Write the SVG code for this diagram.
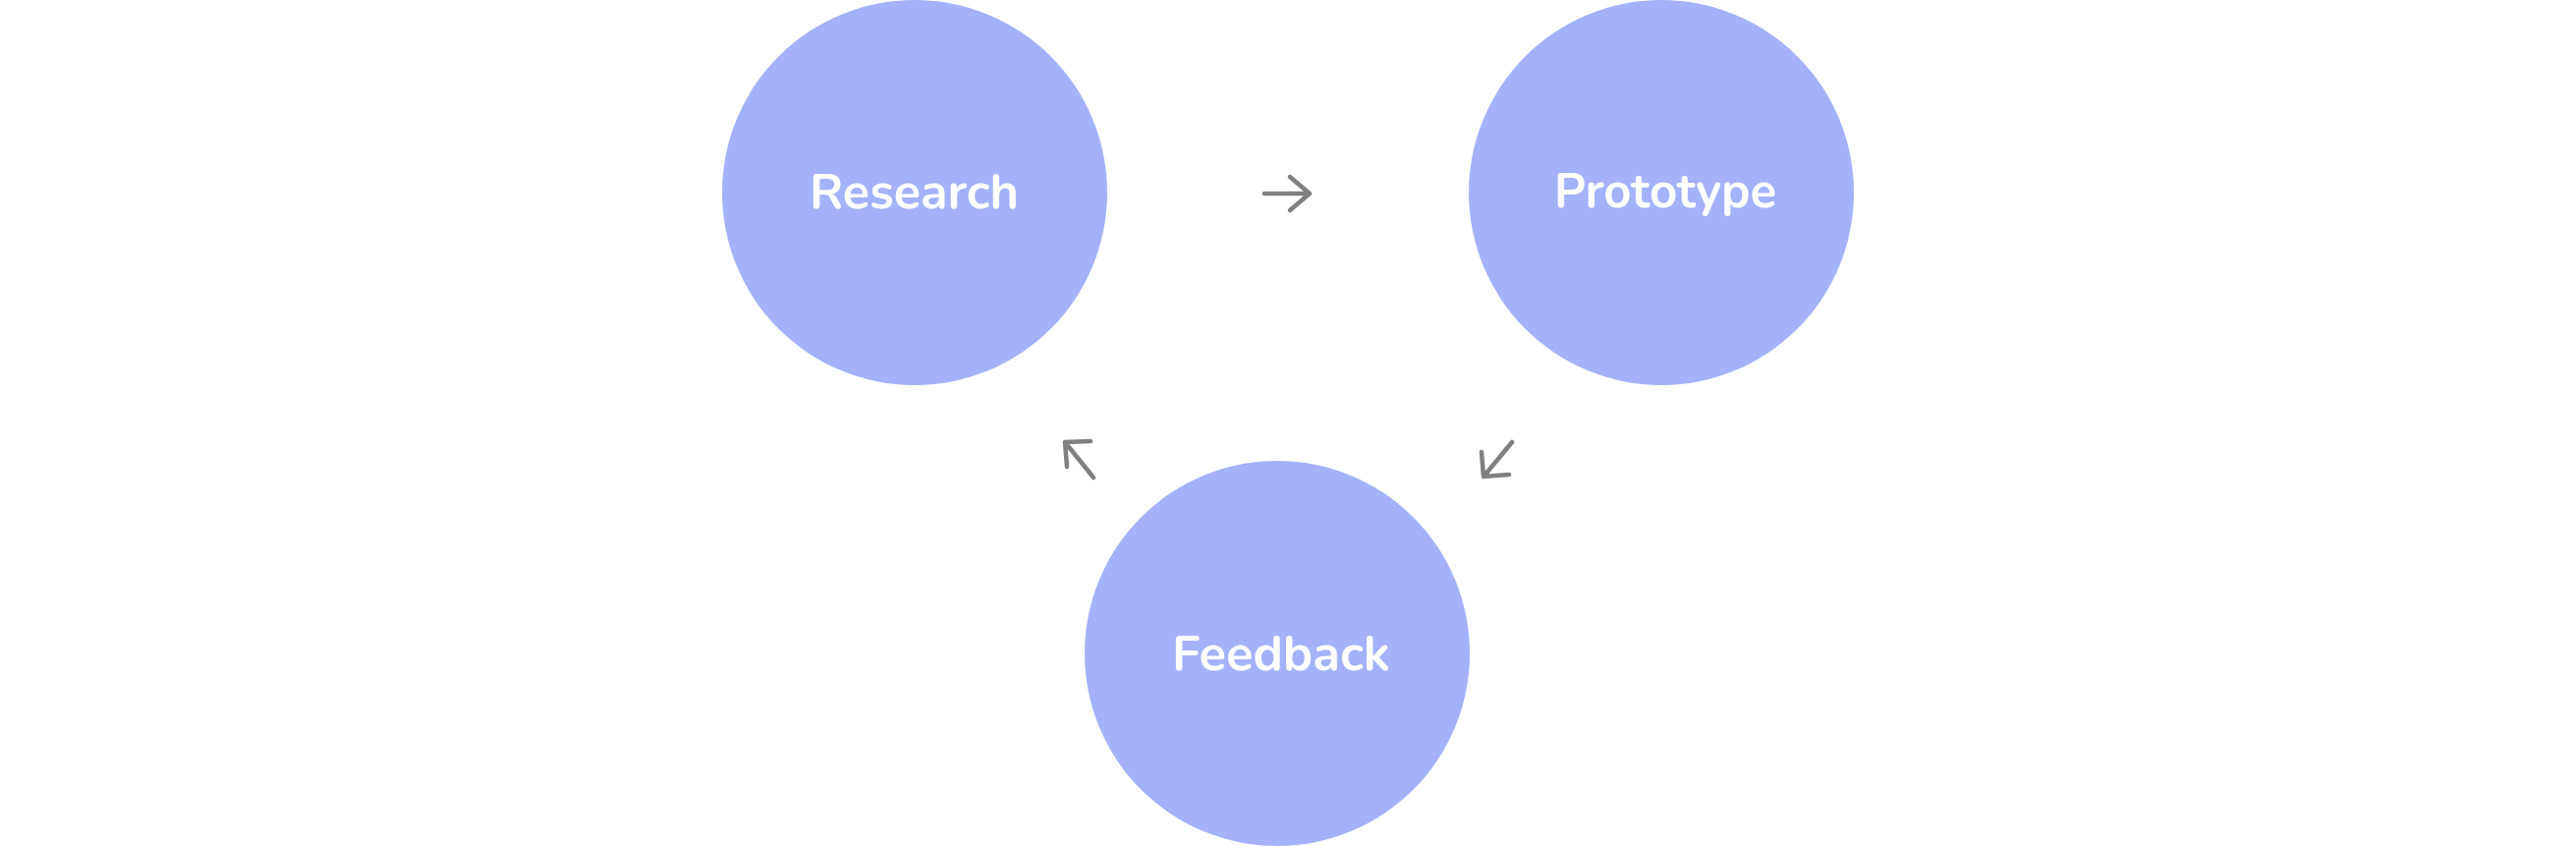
<svg xmlns="http://www.w3.org/2000/svg" width="2622" height="861" viewBox="0 0 2622 861">
<style>
.node{fill:#a3b2fa}
.lbl{fill:#ffffff;font-family:"Nunito",Lato,"Noto Sans",sans-serif;font-weight:700;font-size:50px;text-anchor:middle}
.arr{fill:none;stroke:#808080;stroke-width:4.5;stroke-linecap:round;stroke-linejoin:round}
</style>
<rect width="2622" height="861" fill="#ffffff"/>
<g id="research">
<circle class="node" cx="931" cy="196" r="196"/>
<text class="lbl" x="930.5" y="212" textLength="213" lengthAdjust="spacingAndGlyphs">Research</text>
</g>
<g id="prototype">
<circle class="node" cx="1691" cy="196" r="196"/>
<text class="lbl" x="1695" y="211" textLength="226" lengthAdjust="spacingAndGlyphs">Prototype</text>
</g>
<g id="feedback">
<circle class="node" cx="1300" cy="665" r="196"/>
<text class="lbl" x="1304" y="682" textLength="222" lengthAdjust="spacingAndGlyphs">Feedback</text>
</g>
<g id="connectors">
<path class="arr" d="M1287 197 H1333 M1313 180 L1333 197 L1313 214"/>
<path class="arr" d="M1539 450 L1510 485 M1508 460 L1510 485 L1536 483"/>
<path class="arr" d="M1113 486 L1084 450 M1110 449 L1084 450 L1086 475"/>
</g>
</svg>
